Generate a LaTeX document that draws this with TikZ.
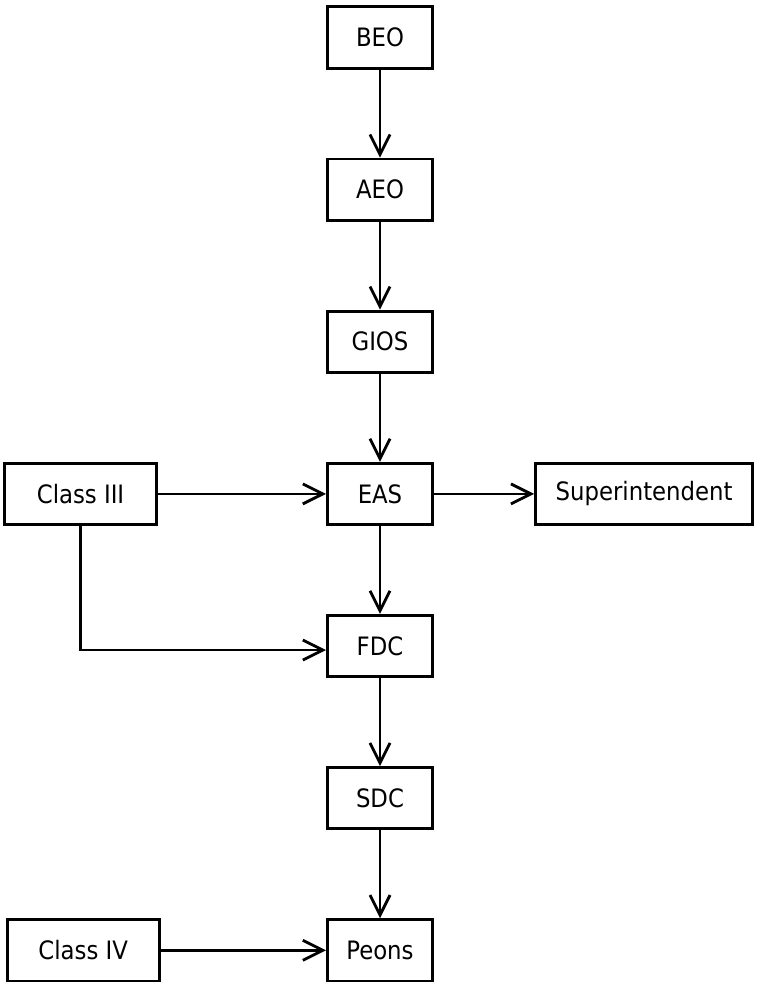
\documentclass[tikz,border=0pt]{standalone}
\usepackage{fontspec}
\setmainfont{DejaVu Sans Condensed}
\usetikzlibrary{arrows.meta, positioning}

\begin{document}
\begin{tikzpicture}[
        x=0.75pt, y=-0.75pt,
        node distance=66pt,
        postbox/.style={
            draw,
            line width=2.1pt,
            minimum width=79pt,
            minimum height=46pt,
            inner sep=0pt,
            font=\fontsize{19}{22}\selectfont
        },
        reportlink/.style={-{Straight Barb[length=15pt, width=15pt, line width=2.1pt]}, line width=2.1pt}
    ]
        \useasboundingbox (0,0) rectangle (761,983);

        \node[postbox] (beo) at (380,37.5) {BEO};
        \node[postbox, below=of beo] (aeo) {AEO};
        \node[postbox, below=of aeo] (gios) {GIOS};
        \node[postbox, below=of gios] (eas) {EAS};
        \node[postbox, below=of eas] (fdc) {FDC};
        \node[postbox, below=of fdc] (sdc) {SDC};
        \node[postbox, below=of sdc] (peons) {Peons};
        \node[postbox, left=126pt of eas, minimum width=114pt] (classthree) {Class III};
        \node[postbox, right=75pt of eas, minimum width=163pt] (superintendent) {Superintendent};
        \node[postbox, left=124pt of peons, minimum width=114pt] (classfour) {Class IV};

        \draw[reportlink] (beo) -- (aeo);
        \draw[reportlink] (aeo) -- (gios);
        \draw[reportlink] (gios) -- (eas);
        \draw[reportlink] (eas) -- (fdc);
        \draw[reportlink] (fdc) -- (sdc);
        \draw[reportlink] (sdc) -- (peons);
        \draw[reportlink] (classthree) -- (eas);
        \draw[reportlink] (eas) -- (superintendent);
        \draw[reportlink] (classthree.south) |- ([yshift=-3pt]fdc.west);
        \draw[reportlink] (classfour) -- (peons);
    \end{tikzpicture}
\end{document}
